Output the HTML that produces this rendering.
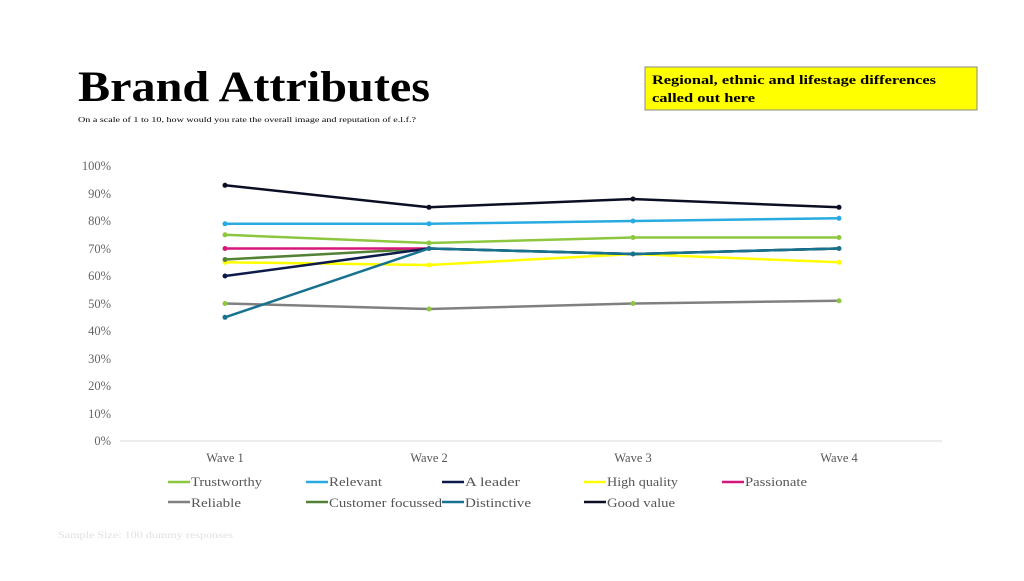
<!DOCTYPE html><html><head><style>body{margin:0;background:#fff}</style></head><body>
<svg width="1024" height="576" xmlns="http://www.w3.org/2000/svg" font-family="Liberation Serif, serif">
<text x="78" y="101" font-size="43" fill="#000" font-weight="bold" textLength="352" lengthAdjust="spacingAndGlyphs">Brand Attributes</text>
<text x="78" y="122" font-size="7.5" fill="#000" textLength="338" lengthAdjust="spacingAndGlyphs">On a scale of 1 to 10, how would you rate the overall image and reputation of e.l.f.?</text>
<rect x="645" y="67" width="332" height="43" fill="#ffff00" stroke="#888" stroke-width="1"/>
<text x="652" y="84" font-size="13" fill="#000" font-weight="bold" textLength="284" lengthAdjust="spacingAndGlyphs">Regional, ethnic and lifestage differences</text>
<text x="652" y="102" font-size="13" fill="#000" font-weight="bold" textLength="103" lengthAdjust="spacingAndGlyphs">called out here</text>
<g font-size="12.5" fill="#666" text-anchor="end">
<text x="111" y="170">100%</text><text x="111" y="198">90%</text><text x="111" y="225">80%</text><text x="111" y="253">70%</text><text x="111" y="280">60%</text><text x="111" y="308">50%</text><text x="111" y="335">40%</text><text x="111" y="363">30%</text><text x="111" y="390">20%</text><text x="111" y="418">10%</text><text x="111" y="445">0%</text>
</g>
<line x1="120" y1="441" x2="942" y2="441" stroke="#d9d9d9"/>
<g font-size="12.5" fill="#555" text-anchor="middle">
<text x="225" y="462">Wave 1</text><text x="429" y="462">Wave 2</text><text x="633" y="462">Wave 3</text><text x="839" y="462">Wave 4</text>
</g>
<g stroke-width="2.5" fill="none">
<polyline stroke="#808080" points="225,303.5 429,309 633,303.5 839,300.8"/>
<polyline stroke="#8dc63f" points="225,234.8 429,243 633,237.5 839,237.5"/>
<polyline stroke="#29abe2" points="225,223.8 429,223.8 633,221 839,218.3"/>
<polyline stroke="#ffff00" points="225,262.3 429,265 633,254 839,262.3"/>
<polyline stroke="#538135" points="225,259.5 429,248.5 633,254 839,248.5"/>
<polyline stroke="#d6177a" points="225,248.5 429,248.5"/>
<polyline stroke="#0d1b4b" points="225,276 429,248.5 633,254 839,248.5"/>
<polyline stroke="#16728f" points="225,317.3 429,248.5 633,254 839,248.5"/>
<polyline stroke="#0a0f24" points="225,185.3 429,207.3 633,199 839,207.3"/>
</g>
<g>
<g fill="#8dc63f"><circle cx="225" cy="303.5" r="2.5"/><circle cx="429" cy="309" r="2.5"/><circle cx="633" cy="303.5" r="2.5"/><circle cx="839" cy="300.8" r="2.5"/>
<circle cx="225" cy="234.8" r="2.5"/><circle cx="429" cy="243" r="2.5"/><circle cx="633" cy="237.5" r="2.5"/><circle cx="839" cy="237.5" r="2.5"/></g>
<g fill="#29abe2"><circle cx="225" cy="223.8" r="2.5"/><circle cx="429" cy="223.8" r="2.5"/><circle cx="633" cy="221" r="2.5"/><circle cx="839" cy="218.3" r="2.5"/></g>
<g fill="#ffff00"><circle cx="225" cy="262.3" r="2.5"/><circle cx="429" cy="265" r="2.5"/><circle cx="839" cy="262.3" r="2.5"/></g>
<g fill="#538135"><circle cx="225" cy="259.5" r="2.5"/></g>
<g fill="#d6177a"><circle cx="225" cy="248.5" r="2.5"/></g>
<g fill="#0d1b4b"><circle cx="225" cy="276" r="2.5"/></g>
<g fill="#16728f"><circle cx="225" cy="317.3" r="2.5"/><circle cx="429" cy="248.5" r="2.5"/><circle cx="633" cy="254" r="2.5"/><circle cx="839" cy="248.5" r="2.5"/></g>
<g fill="#0a0f24"><circle cx="225" cy="185.3" r="2.5"/><circle cx="429" cy="207.3" r="2.5"/><circle cx="633" cy="199" r="2.5"/><circle cx="839" cy="207.3" r="2.5"/></g>
</g>
<g font-size="13" fill="#555" stroke-width="2.5">
<line x1="168" y1="482" x2="190" y2="482" stroke="#8dc63f"/><text x="191" y="486" textLength="71" lengthAdjust="spacingAndGlyphs">Trustworthy</text>
<line x1="306" y1="482" x2="328" y2="482" stroke="#29abe2"/><text x="329" y="486" textLength="53" lengthAdjust="spacingAndGlyphs">Relevant</text>
<line x1="442" y1="482" x2="464" y2="482" stroke="#0d1b4b"/><text x="465" y="486" textLength="55" lengthAdjust="spacingAndGlyphs">A leader</text>
<line x1="584" y1="482" x2="606" y2="482" stroke="#ffff00"/><text x="607" y="486" textLength="71" lengthAdjust="spacingAndGlyphs">High quality</text>
<line x1="722" y1="482" x2="744" y2="482" stroke="#d6177a"/><text x="745" y="486" textLength="62" lengthAdjust="spacingAndGlyphs">Passionate</text>
<line x1="168" y1="502" x2="190" y2="502" stroke="#808080"/><text x="191" y="507" textLength="50" lengthAdjust="spacingAndGlyphs">Reliable</text>
<line x1="306" y1="502" x2="328" y2="502" stroke="#538135"/><text x="329" y="507" textLength="113" lengthAdjust="spacingAndGlyphs">Customer focussed</text>
<line x1="442" y1="502" x2="464" y2="502" stroke="#16728f"/><text x="465" y="507" textLength="66" lengthAdjust="spacingAndGlyphs">Distinctive</text>
<line x1="584" y1="502" x2="606" y2="502" stroke="#0a0f24"/><text x="607" y="507" textLength="68" lengthAdjust="spacingAndGlyphs">Good value</text>
</g>
<text x="58" y="538" font-size="9" fill="#e0e0e0" textLength="175" lengthAdjust="spacingAndGlyphs">Sample Size: 100 dummy responses</text>
</svg></body></html>
